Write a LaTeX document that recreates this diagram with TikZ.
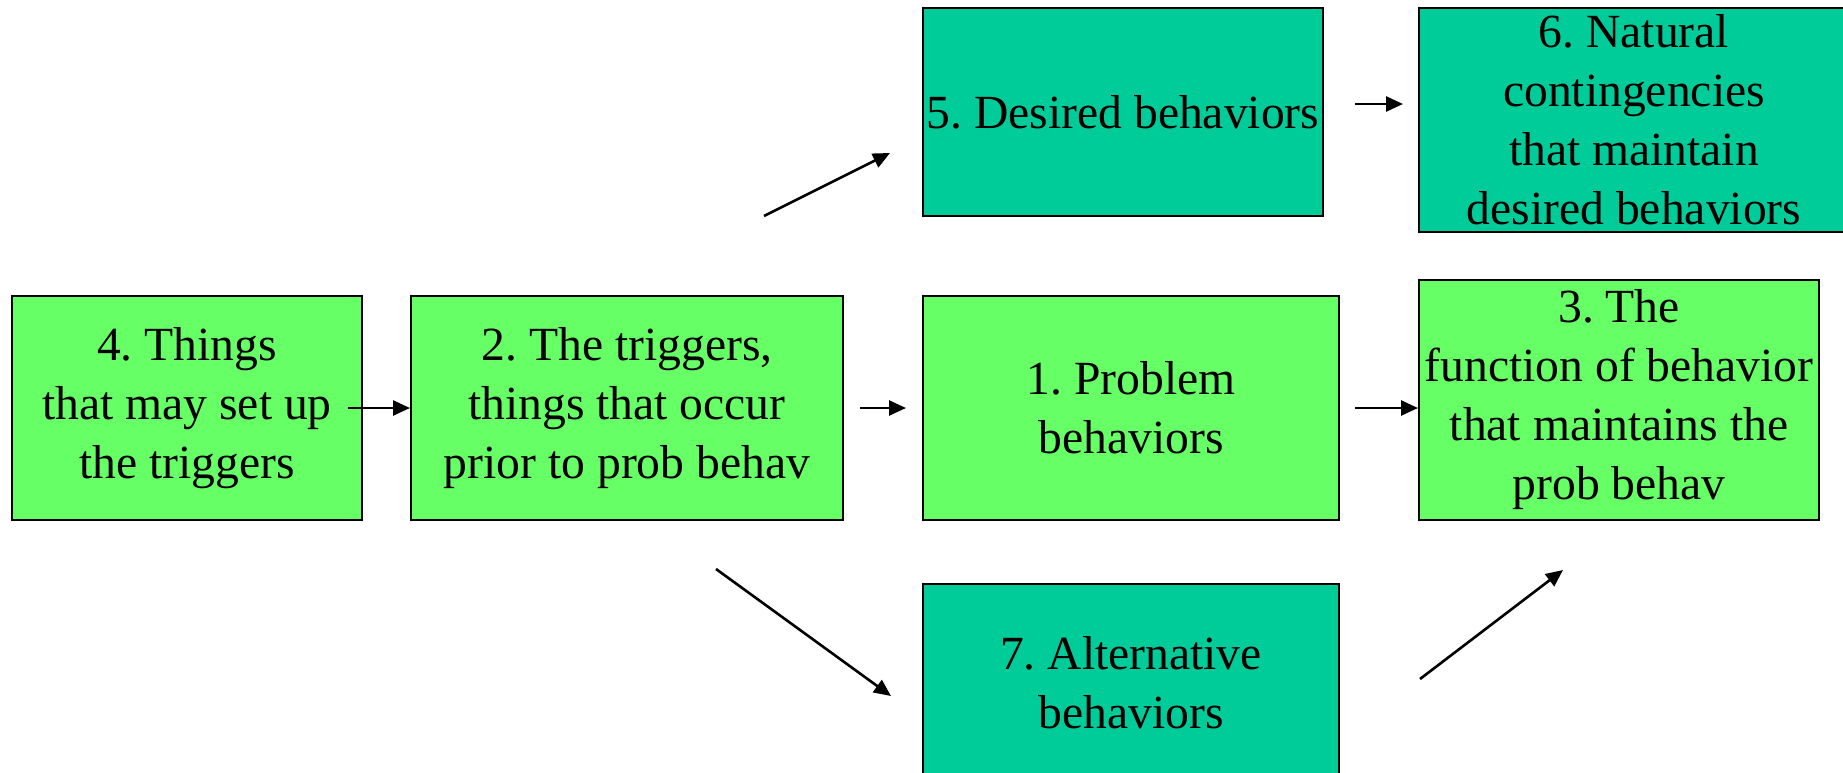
\documentclass[tikz,border=0pt]{standalone}
\usepackage{fontspec}
\setmainfont{Liberation Serif}
\usetikzlibrary{arrows.meta,calc}
\definecolor{lightgreen}{RGB}{102,255,102}
\definecolor{teal}{RGB}{0,204,153}
\begin{document}
\frenchspacing
\begin{tikzpicture}[x=0.5pt,y=-0.5pt,
  box/.style={draw=black,line width=1pt,inner sep=0pt,align=center,
    font=\fontsize{23.8}{29.5}\selectfont},
  problem/.style={box,fill=lightgreen},
  desired/.style={box,fill=teal},
  arr/.style={draw=black,line width=1.3pt,-{Triangle[length=8.5pt,width=7.5pt]}}]
\useasboundingbox (0,0) rectangle (1843,772);
\clip (0,0) rectangle (1843,772);

% chain of the problem behaviour
\node[problem,minimum width=175pt,minimum height=112pt] (n4) at (187,408)
  {4. Things\\that may set up\\the triggers};
\node[problem,minimum width=216pt,minimum height=112pt] (n2) at (627,408)
  {2. The triggers,\\things that occur\\prior to prob behav};
\node[problem,minimum width=208pt,minimum height=112pt] (n1) at (1131,408)
  {1. Problem\\behaviors};
\node[problem,minimum width=200pt,minimum height=120pt] (n3) at (1619,400)
  {3. The\\function of behavior\\that maintains the\\prob behav};

% desired and alternative behaviours
\node[desired,minimum width=200pt,minimum height=104pt] (n5) at (1123,112)
  {5. Desired behaviors};
\node[desired,minimum width=215pt,minimum height=112pt] (n6) at (1634,120)
  {6. Natural\\contingencies\\that maintain\\desired behaviors};
\node[desired,minimum width=208pt,minimum height=99pt] (n7) at (1131,683)
  {7. Alternative\\behaviors};

% free ends of the connectors
\coordinate (c42) at (348,408);
\coordinate (c21a) at (860,408);
\coordinate (c21b) at (906,408);
\coordinate (c13) at (1355,408);
\coordinate (c56a) at (1355,104);
\coordinate (c56b) at (1403,104);
\coordinate (c25a) at (764,216);
\coordinate (c25b) at (890,153);
\coordinate (c27a) at (716,569);
\coordinate (c27b) at (891,696);
\coordinate (c73a) at (1420,679);
\coordinate (c73b) at (1563,570);

\draw[arr] (c42) -- (c42 -| n2.west);
\draw[arr] (c21a) -- (c21b);
\draw[arr] (c13) -- (c13 -| n3.west);
\draw[arr] (c56a) -- (c56b);
\draw[arr] (c25a) -- (c25b);
\draw[arr] (c27a) -- (c27b);
\draw[arr] (c73a) -- (c73b);
\end{tikzpicture}
\end{document}
